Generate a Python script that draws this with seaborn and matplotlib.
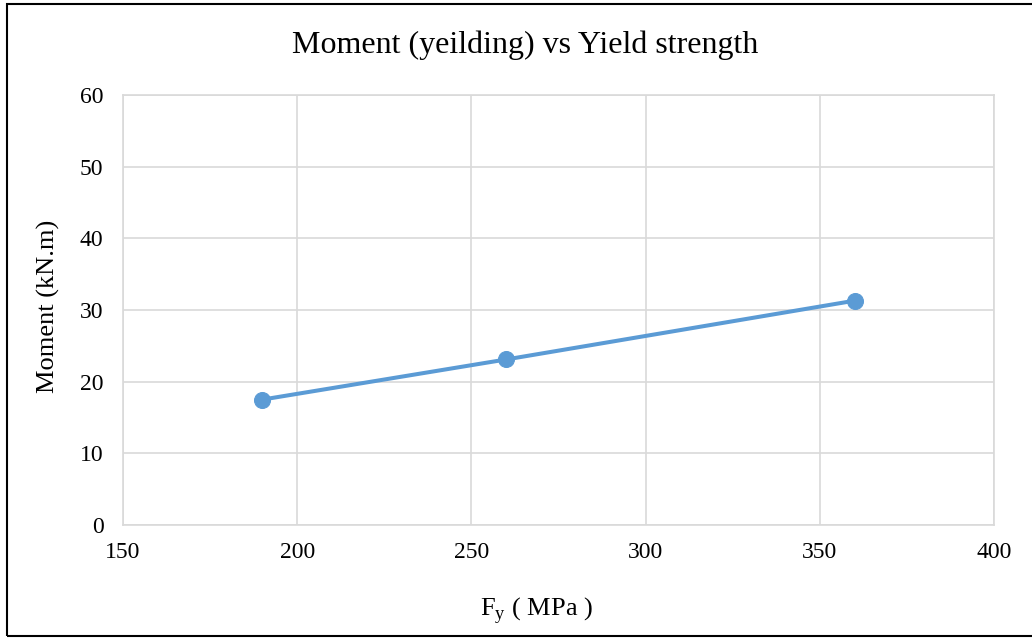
import matplotlib
matplotlib.use("Agg")
import matplotlib.pyplot as plt
import matplotlib.patches as patches
import pandas as pd
import seaborn as sns

# Dati
fy_mpa = [190, 260, 360]
moment_knm = [17.5, 23.1, 31.3]
x_ticks = [150, 200, 250, 300, 350, 400]
y_ticks = [0, 10, 20, 30, 40, 50, 60]

sns.set_theme(style="whitegrid")
plt.rcParams['font.family'] = ['Liberation Serif', 'DejaVu Serif']
plt.rcParams['mathtext.fontset'] = 'custom'
plt.rcParams['mathtext.rm'] = 'Liberation Serif'

df = pd.DataFrame({'fy': fy_mpa, 'moment': moment_knm})

fig = plt.figure(figsize=(10.32, 6.39), dpi=100)
ax = fig.add_axes([123 / 1032, 114 / 639, 871 / 1032, 430 / 639])

sns.lineplot(data=df, x='fy', y='moment', ax=ax, color='#5B9BD5', linewidth=2.9,
             marker='o', markersize=11.5, markeredgecolor='#5B9BD5')

ax.set_xlim(150, 400)
ax.set_ylim(0, 60)
ax.set_xticks(x_ticks)
ax.set_yticks(y_ticks)
ax.grid(True, color='#d9d9d9', linewidth=1.2)
for s in ax.spines.values():
    s.set_color('#d9d9d9')
    s.set_linewidth(1.2)
ax.tick_params(axis='both', labelsize=17, colors='black', length=0)
ax.tick_params(axis='x', pad=12)
ax.tick_params(axis='y', pad=14)
ax.set_xlabel('')
ax.set_ylabel('')

fig.text(48 / 1032, 1 - 306 / 639, 'Moment (kN.m)', rotation=90,
         ha='center', va='center', fontsize=19, color='black')
fig.text(525 / 1032, 1 - 45 / 639, 'Moment (yeilding) vs Yield strength',
         ha='center', va='center', fontsize=23, color='black')
fig.text(536 / 1032, 1 - 610 / 639, r'F$_\mathregular{y}$ ( MPa )',
         ha='center', va='center', fontsize=19, color='black')

# cornice esterna
fig.patches.append(patches.Rectangle((7 / 1032, 3 / 639), 1.1, 632 / 639,
                                     transform=fig.transFigure, fill=False,
                                     edgecolor='black', linewidth=1.5))

fig.savefig('out.png', dpi=100)
